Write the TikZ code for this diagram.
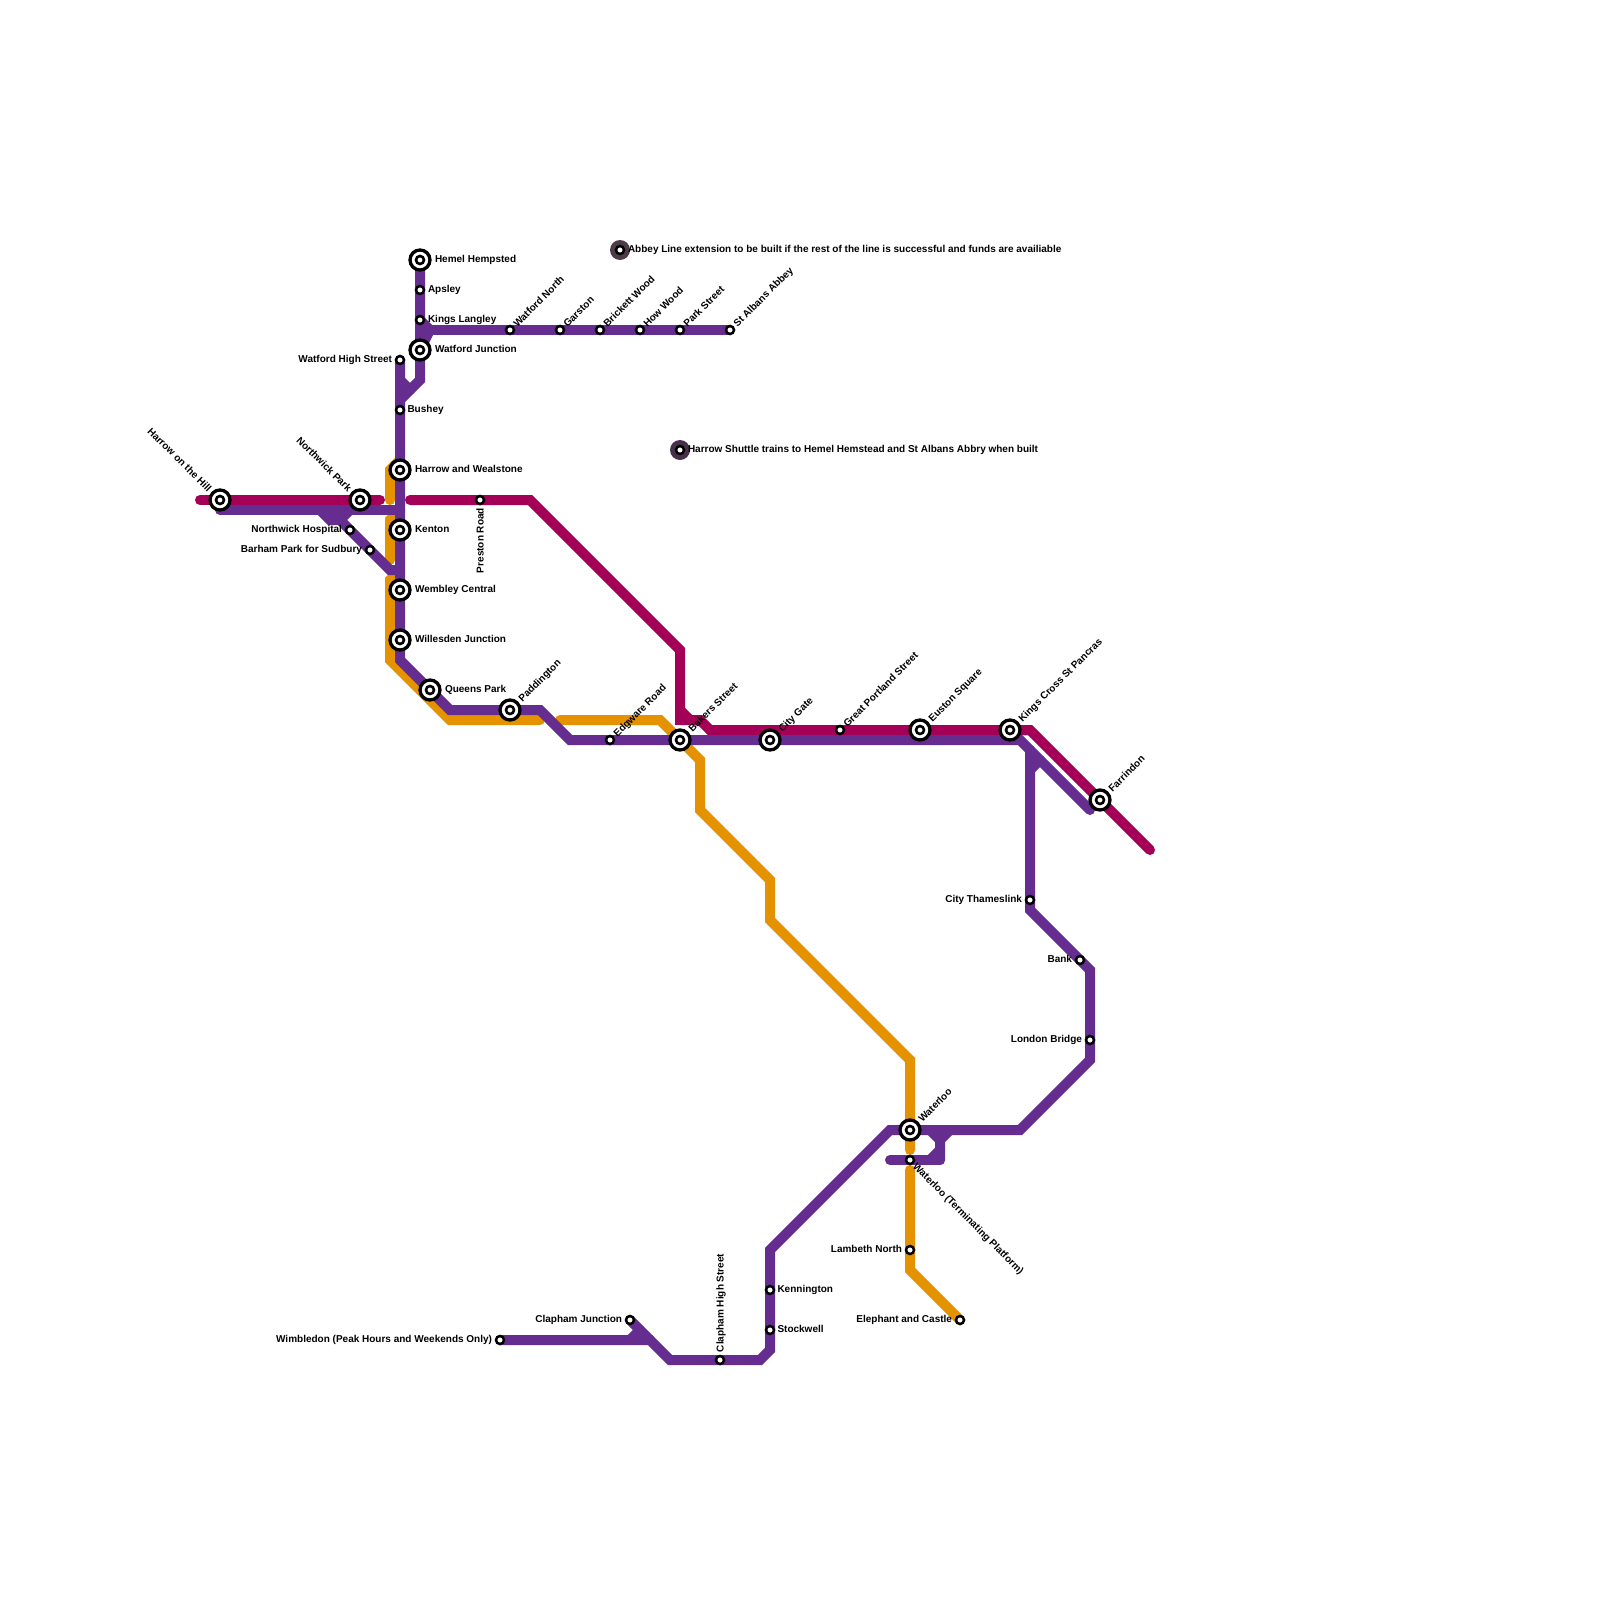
\documentclass[tikz,border=0pt]{standalone}
\usepackage{fontspec}
\setmainfont{Liberation Sans}
\usetikzlibrary{backgrounds}
\definecolor{lmag}{HTML}{A50058}
\definecolor{lpur}{HTML}{662D91}
\definecolor{lora}{HTML}{E59200}
\definecolor{haloa}{HTML}{4D3B47}
\definecolor{halob}{HTML}{46304A}
\tikzset{
  x=0.5pt,y=-0.5pt,
  railline/.style={line width=5pt,line cap=round,line join=miter,miter limit=10},
  stub/.style={line width=5pt,line cap=butt},
  halt/.style={circle,draw=black,fill=white,line width=1.25pt,minimum size=4pt,inner sep=0pt,outer sep=0pt},
  ichange/.style={circle,draw=black,fill=white,line width=1.65pt,minimum size=10pt,inner sep=0pt,outer sep=0pt,
    path picture={\draw[black,fill=white,line width=1.3pt] (path picture bounding box.center) circle (2pt);}},
  halo/.style={circle,fill=#1,minimum size=10pt,inner sep=0pt,outer sep=0pt},
  lab/.style={font=\fontsize{5pt}{6pt}\selectfont\bfseries,inner sep=0pt,outer sep=0pt,text height=3.6pt,text depth=0pt},
  labR/.style={lab,anchor=west},
  labL/.style={lab,anchor=east},
  labU/.style={lab,anchor=west,rotate=45},
  labD/.style={lab,anchor=west,rotate=-45},
  labUL/.style={lab,anchor=east,rotate=-45},
  labV/.style={lab,anchor=west,rotate=90},
  labVd/.style={lab,anchor=east,rotate=90},
}
\begin{document}
\begin{tikzpicture}
\useasboundingbox (0,0) rectangle (1600,1600);
% stations
\node[ichange] (hemel) at (420,260) {};
\node[halt] (apsley) at (420,290) {};
\node[halt] (kings) at (420,320) {};
\node[ichange] (wjunc) at (420,350) {};
\node[halt] (whigh) at (400,360) {};
\node[halt] (bushey) at (400,410) {};
\node[ichange] (hweal) at (400,470) {};
\node[ichange] (hhill) at (220,500) {};
\node[ichange] (npark) at (360,500) {};
\node[halt] (preston) at (480,500) {};
\node[ichange] (kenton) at (400,530) {};
\node[halt] (nhosp) at (350,530) {};
\node[halt] (barham) at (370,550) {};
\node[ichange] (wembley) at (400,590) {};
\node[ichange] (willes) at (400,640) {};
\node[ichange] (queens) at (430,690) {};
\node[ichange] (padd) at (510,710) {};
\node[halt] (wnorth) at (510,330) {};
\node[halt] (garston) at (560,330) {};
\node[halt] (brick) at (600,330) {};
\node[halt] (howw) at (640,330) {};
\node[halt] (parks) at (680,330) {};
\node[halt] (albans) at (730,330) {};
\node[halt] (edgw) at (610,740) {};
\node[ichange] (bakers) at (680,740) {};
\node[ichange] (cityg) at (770,740) {};
\node[halt] (gport) at (840,730) {};
\node[ichange] (euston) at (920,730) {};
\node[ichange] (kcross) at (1010,730) {};
\node[ichange] (farr) at (1100,800) {};
\node[halt] (cthames) at (1030,900) {};
\node[halt] (bank) at (1080,960) {};
\node[halt] (lbridge) at (1090,1040) {};
\node[ichange] (wloo) at (910,1130) {};
\node[halt] (wloot) at (910,1160) {};
\node[halt] (lambeth) at (910,1250) {};
\node[halt] (eleph) at (960,1320) {};
\node[halt] (kenn) at (770,1290) {};
\node[halt] (stock) at (770,1330) {};
\node[halt] (chigh) at (720,1360) {};
\node[halt] (cjunc) at (630,1320) {};
\node[halt] (wimb) at (500,1340) {};
\node[halo=haloa] (abbeyh) at (620,250) {};
\node[halt] (abbey) at (620,250) {};
\node[halo=halob] (shuth) at (680,450) {};
\node[halt] (shut) at (680,450) {};
% bend points
\foreach \n/\p in {
 m0/{200,500},m1/{380,500},m2/{410,500},m3/{530,500},m4/{680,650},m5/{680,720},m6/{680,710},m7/{690,720},m8/{700,720},m9/{710,730},m10/{1030,730},m11/{1150,850},m12/{680,725},
 o1/{400,460},o2/{390,470},o3/{390,500},o4/{400,510},o5/{390,520},o6/{390,560},o7/{400,570},o8/{390,580},o9/{390,660},o10/{450,720},o11/{540,720},o12/{560,720},o13/{660,720},o14/{700,760},o15/{700,810},o16/{770,880},o17/{770,920},o18/{910,1060},o19/{910,1150},o20/{910,1170},o21/{910,1270},
 a1/{420,380},a2/{400,400},a3/{400,380},a4/{410,390},a5/{430,330},
 b1/{220,510},b2/{400,510},b3/{320,510},b4/{330,520},b5/{340,520},b6/{350,510},b7/{390,570},b8/{400,570},
 c1/{400,660},c2/{450,710},c3/{540,710},c4/{570,740},c5/{1020,740},c6/{1090,810},c7/{1030,750},c8/{1030,770},c9/{1040,760},
 d1/{1030,910},d2/{1090,970},d3/{1090,1060},d4/{1020,1130},d5/{890,1130},d6/{770,1250},d7/{770,1350},d8/{760,1360},d9/{670,1360},d10/{650,1340},d11/{630,1340},d12/{640,1330},
 e1/{930,1130},e2/{940,1140},e3/{950,1130},e4/{940,1160},e5/{890,1160},e6/{940,1150},e7/{930,1160}}
 {\coordinate (\n) at (\p);}
\begin{scope}[on background layer]
\fill[white] (0,0) rectangle (1600,1600);
\draw[railline,lmag] (m0)--(m1);
\draw[railline,lmag] (m2)--(m3)--(m4)--(m5);
\draw[stub,lmag] (m6)--(m12);
\draw[railline,lmag] (m6)--(m7);
\draw[railline,lmag,line cap=butt] (m5)--(m8)--(m9)--(m10);
\draw[railline,lmag] (m9)--(m10)--(m11);
%
\draw[railline,lora] (o1)--(o2)--(o3);
\draw[railline,lora] (o4)--(o5)--(o6);
\draw[railline,lora] (o7)--(o8)--(o9)--(o10)--(o11);
\draw[railline,lora] (o12)--(o13)--(o14)--(o15)--(o16)--(o17)--(o18)--(o19);
\draw[railline,lora] (o20)--(o21)--(eleph.center);
%
\draw[railline,lpur] (hemel.center)--(a1)--(a2);
\draw[railline,lpur] (a3)--(a4);
\draw[railline,lpur] (kings.center)--(a5)--(wjunc.center);
\draw[railline,lpur] (a5)--(albans.center);
\draw[railline,lpur] (whigh.center)--(c1)--(c2)--(c3)--(c4)--(c5)--(c6);
\draw[railline,lpur] (b1)--(b2);
\draw[railline,lpur] (b3)--(b4)--(b5)--(b6);
\draw[railline,lpur] (b5)--(b7)--(b8);
\draw[railline,lpur] (c7)--(d1)--(d2)--(d3)--(d4)--(d5)--(d6)--(d7)--(d8)--(d9)--(d10)--(wimb.center);
\draw[railline,lpur] (c8)--(c9);
\draw[railline,lpur] (cjunc.center)--(d10);
\draw[railline,lpur] (d11)--(d12);
\draw[railline,lpur] (e1)--(e2);
\draw[railline,lpur] (e3)--(e2)--(e4);
\draw[railline,lpur] (e4)--(e5);
\draw[railline,lpur] (e6)--(e7);
\end{scope}
% labels right
\node[labR] (t1) at (435,259) {Hemel Hempsted};
\node[labR] (t2) at (428,289) {Apsley};
\node[labR] (t3) at (428,319) {Kings Langley};
\node[labR] (t4) at (435,349) {Watford Junction};
\node[labR] (t5) at (407.5,409) {Bushey};
\node[labR] (t6) at (415,469) {Harrow and Wealstone};
\node[labR] (t7) at (415,529) {Kenton};
\node[labR] (t8) at (415,589) {Wembley Central};
\node[labR] (t9) at (415,639) {Willesden Junction};
\node[labR] (t10) at (445,689) {Queens Park};
\node[labR] (t11) at (777.5,1289) {Kennington};
\node[labR] (t12) at (777.5,1329) {Stockwell};
\node[labR] (t13) at (628,249) {Abbey Line extension to be built if the rest of the line is successful and funds are availiable};
\node[labR] (t14) at (688,449) {Harrow Shuttle trains to Hemel Hemstead and St Albans Abbry when built};
% labels left
\node[labL] (t20) at (392,359) {Watford High Street};
\node[labL] (t21) at (342,529) {Northwick Hospital};
\node[labL] (t22) at (362,549) {Barham Park for Sudbury};
\node[labL] (t23) at (1022,899) {City Thameslink};
\node[labL] (t24) at (1072,959) {Bank};
\node[labL] (t25) at (1082,1039) {London Bridge};
\node[labL] (t26) at (902,1249) {Lambeth North};
\node[labL] (t27) at (952,1319) {Elephant and Castle};
\node[labL] (t28) at (622,1319) {Clapham Junction};
\node[labL] (t29) at (492,1339) {Wimbledon (Peak Hours and Weekends Only)};
% diagonal labels
\node[labU] (t30) at (515,325) {Watford North};
\node[labU] (t31) at (565,325) {Garston};
\node[labU] (t32) at (605,325) {Brickett Wood};
\node[labU] (t33) at (645,325) {How Wood};
\node[labU] (t34) at (685,325) {Park Street};
\node[labU] (t35) at (735,325) {St Albans Abbey};
\node[labU] (t36) at (615,735) {Edgware Road};
\node[labU] (t37) at (845,725) {Great Portland Street};
\node[labU] (t38) at (520,700) {Paddington};
\node[labU] (t39) at (690,730) {Bakers Street};
\node[labU] (t40) at (780,730) {City Gate};
\node[labU] (t41) at (930,720) {Euston Square};
\node[labU] (t42) at (1020,720) {Kings Cross St Pancras};
\node[labU] (t43) at (1110,790) {Farrindon};
\node[labU] (t44) at (920,1120) {Waterloo};
\node[labD] (t45) at (915,1165) {Waterloo (Terminating Platform)};
\node[labUL] (t46) at (210,490) {Harrow on the Hill};
\node[labUL] (t47) at (350,490) {Northwick Park};
\node[labVd] (t48) at (480,508) {Preston Road};
\node[labV] (t49) at (720,1352) {Clapham High Street};
\end{tikzpicture}
\end{document}
